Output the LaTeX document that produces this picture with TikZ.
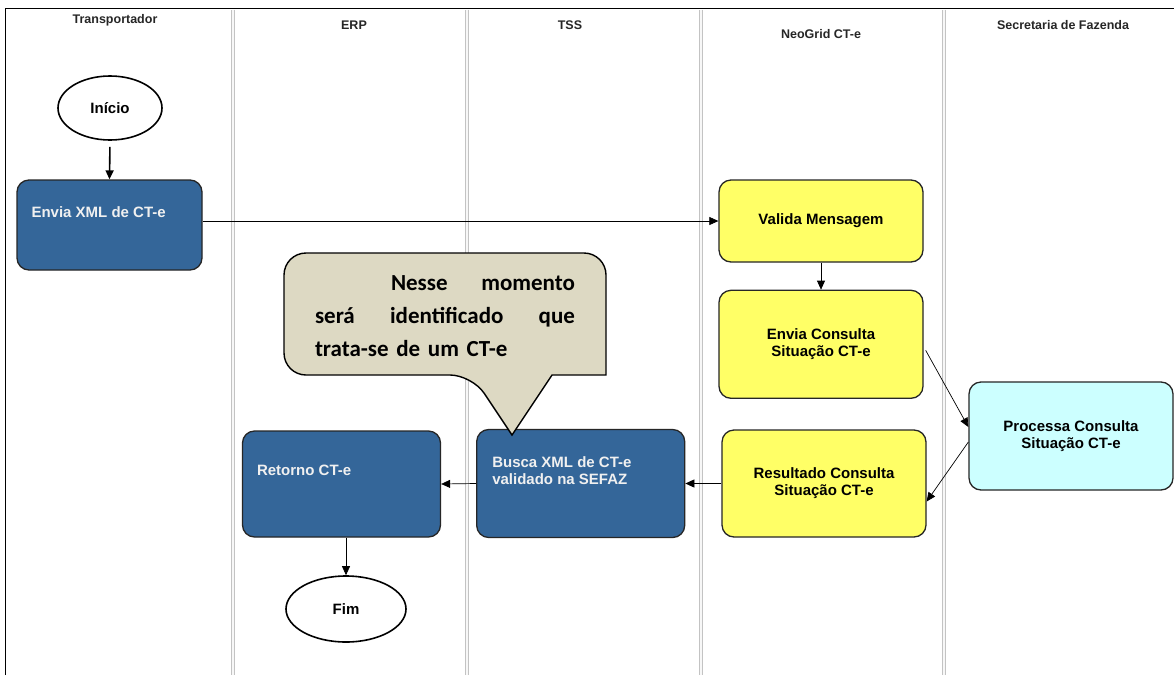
\documentclass[tikz,border=0pt]{standalone}
\usepackage{fontspec}
\setmainfont{Liberation Sans}
\newfontfamily\calloutfont{Carlito}
\usetikzlibrary{shapes.geometric, arrows.meta, positioning, calc}
\definecolor{procblue}{RGB}{52, 102, 153}
\definecolor{procyellow}{RGB}{255, 255, 102}
\definecolor{proccyan}{RGB}{204, 255, 255}
\definecolor{notecolor}{RGB}{221, 217, 195}
\definecolor{lanecolor}{RGB}{195, 195, 195}

\begin{document}
\begin{tikzpicture}[
    x=1pt, y=-1pt,
    lanehead/.style={
        font=\fontsize{12.5}{14}\selectfont\bfseries,
        text=black!85
    },
    lanesep/.style={
        draw=lanecolor,
        double=gray!6,
        double distance=1.6pt,
        line width=0.8pt
    },
    frameline/.style={
        draw=black,
        line width=0.9pt
    },
    startend/.style={
        ellipse,
        draw=black,
        line width=1.6pt,
        fill=white,
        minimum width=104pt,
        minimum height=64pt,
        font=\fontsize{15}{17}\selectfont\bfseries
    },
    procbox/.style={
        rectangle,
        rounded corners=12pt,
        draw=black!85,
        line width=1.3pt,
        minimum width=204pt,
        minimum height=108pt,
        align=center,
        font=\fontsize{15}{17}\selectfont\bfseries
    },
    bluebox/.style={procbox, fill=procblue},
    yellowbox/.style={procbox, fill=procyellow},
    cyanbox/.style={procbox, fill=proccyan},
    bluetext/.style={
        text=white!94!black,
        align=left,
        inner sep=0pt,
        font=\fontsize{15}{17}\selectfont\bfseries
    },
    notebox/.style={
        draw=black,
        line width=1.4pt,
        fill=notecolor
    },
    notetext/.style={
        text width=260pt,
        align=left,
        inner sep=0pt,
        font=\calloutfont\bfseries\fontsize{23}{33}\selectfont
    },
    arrow/.style={
        line width=0.7pt,
        -{Triangle[length=9pt,width=8pt]},
        draw=black
    }
]

% Page and lanes
\fill[white] (0,0) rectangle (1174,675);
\useasboundingbox (0,0) rectangle (1174,675);
\draw[frameline] (5,675) -- (5,8) -- (1174,8);
\foreach \xsep in {233,467,701,944}
    \draw[lanesep] (\xsep,9.5) -- (\xsep,675);

% Lane titles
\node[lanehead] (hdtransp) at (115,20) {Transportador};
\node[lanehead] (hderp) at (354,25) {ERP};
\node[lanehead] (hdtss) at (570,25) {TSS};
\node[lanehead] (hdneogrid) at (821,34) {NeoGrid CT-e};
\node[lanehead] (hdsefaz) at (1063,25) {Secretaria de Fazenda};

% Transportador
\node[startend] (inicio) at (110,108) {Início};
\node[bluebox, minimum width=185pt, minimum height=90pt] (enviaxml) at (109.5,225) {};
\node[bluetext, anchor=west] (enviaxmltxt) at ($(enviaxml.north west)+(15,33)$) {Envia XML de CT-e};

% NeoGrid CT-e
\node[yellowbox, minimum height=82pt] (valida) at (821,221) {Valida Mensagem};
\node[yellowbox, below=27pt of valida] (enviacons) {Envia Consulta\\Situação CT-e};
\node[yellowbox, minimum height=107pt] (resultado) at (824,483.5) {Resultado Consulta\\Situação CT-e};

% Secretaria de Fazenda
\node[cyanbox] (processa) at (1071,436) {Processa Consulta\\Situação CT-e};

% TSS and ERP
\node[bluebox, minimum width=208pt, left=36pt of resultado] (busca) {};
\node[bluetext, anchor=west] (buscatxt) at ($(busca.north west)+(16,41.5)$) {Busca XML de CT-e\\validado na SEFAZ};
\node[bluebox, minimum width=198pt, minimum height=106pt] (retorno) at (341.5,484) {};
\node[bluetext, anchor=west] (retornotxt) at ($(retorno.north west)+(15,40)$) {Retorno CT-e};
\node[startend, minimum width=120pt, minimum height=66pt] (fim) at (346,609) {Fim};

% Flow
\draw[arrow, line width=1.6pt, shorten <=6pt] (inicio.south) -- (enviaxml.north);
\draw[arrow] (enviaxml.east |- valida.west) -- (valida.west);
\draw[arrow] (valida.south) -- (enviacons.north);
\draw[arrow] ($(enviacons.east)+(2,6)$) -- ($(processa.west)+(0,-9)$);
\draw[arrow] ($(processa.west)+(0,6)$) -- ($(resultado.east)+(0,18)$);
\draw[arrow] (resultado.west) -- (busca.east);
\draw[arrow] (busca.west) -- (retorno.east);
\draw[arrow] (fim.north |- retorno.south) -- (fim.north);

% Callout over the TSS step
\draw[notebox] (512,435) -- (552,375) -- (606,375) [rounded corners=22pt] -- (606,253) -- (284,253) -- (284,375) -- (472,375) [sharp corners] -- cycle;
\node[notetext] (note) at (445,316) {\noindent\hspace*{76pt}Nesse\hfill momento\\
    será\hfill identificado\hfill que\\
    trata-se de um CT-e};

\end{tikzpicture}
\end{document}
